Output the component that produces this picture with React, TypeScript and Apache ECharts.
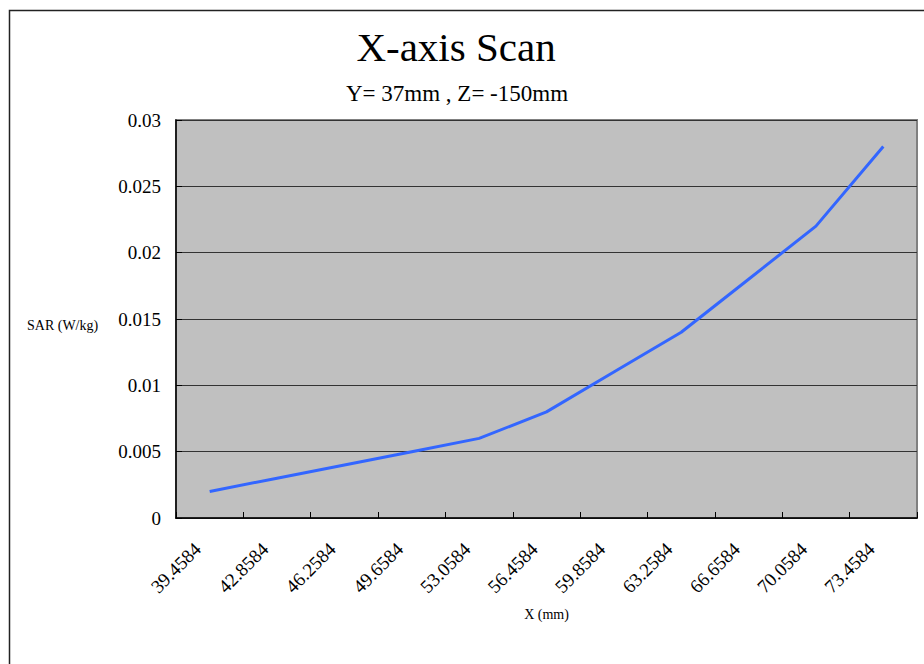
import React, { useEffect, useRef } from "react";
import * as echarts from "echarts";

const categories = [
  "39.4584", "42.8584", "46.2584", "49.6584", "53.0584", "56.4584",
  "59.8584", "63.2584", "66.6584", "70.0584", "73.4584",
];
const sarValues = [0.002, 0.003, 0.004, 0.005, 0.006, 0.008, 0.011, 0.014, 0.018, 0.022, 0.028];
const titleText = "X-axis Scan";
const subtitleText = "Y= 37mm , Z= -150mm";
const yAxisName = "SAR (W/kg)";
const xAxisName = "X (mm)";

const FONT = "Times New Roman";

export default function App() {
  const ref = useRef<HTMLDivElement>(null);
  useEffect(() => {
    if (!ref.current) return;
    const chart = echarts.init(ref.current, undefined, { renderer: "svg" });
    chart.setOption({
      animation: false,
      backgroundColor: "#ffffff",
      textStyle: { fontFamily: FONT },
      graphic: [
        {
          type: "rect",
          shape: { x: 9.5, y: 10.5, width: 1000, height: 1000 },
          style: { fill: "none", stroke: "#222", lineWidth: 1.5 },
          silent: true,
        },
        {
          type: "text",
          x: 456,
          y: 26,
          style: { text: titleText, fontFamily: FONT, fontSize: 41, fill: "#000", align: "center", verticalAlign: "top" },
        },
        {
          type: "text",
          x: 457,
          y: 82,
          style: { text: subtitleText, fontFamily: FONT, fontSize: 23, fill: "#000", align: "center", verticalAlign: "top" },
        },
        {
          type: "text",
          left: 27,
          top: 318,
          style: { text: yAxisName, fontFamily: FONT, fontSize: 14, fill: "#000" },
        },
      ],
      grid: {
        left: 176,
        top: 120,
        width: 741,
        height: 398,
        show: true,
        backgroundColor: "#c0c0c0",
        borderColor: "#808080",
        borderWidth: 2,
      },
      xAxis: {
        type: "category",
        data: categories,
        boundaryGap: true,
        name: xAxisName,
        nameLocation: "middle",
        nameGap: 89,
        nameTextStyle: { fontFamily: FONT, fontSize: 14, color: "#000" },
        axisLine: { show: true, lineStyle: { color: "#000", width: 1.5 } },
        axisTick: { show: true, inside: true, length: 6, alignWithLabel: false, lineStyle: { color: "#000" } },
        axisLabel: {
          rotate: 45,
          margin: 16,
          padding: [0, 17, 0, 0],
          interval: 0,
          fontFamily: FONT,
          fontSize: 19,
          color: "#000",
        },
        splitLine: { show: false },
      },
      yAxis: {
        type: "value",
        min: 0,
        max: 0.03,
        interval: 0.005,
        axisLine: { show: true, lineStyle: { color: "#000", width: 1.5 } },
        axisTick: { show: true, inside: true, length: 6, lineStyle: { color: "#000" } },
        axisLabel: { margin: 15, fontFamily: FONT, fontSize: 19, color: "#000" },
        splitLine: { show: true, lineStyle: { color: "#333", width: 1 } },
      },
      series: [
        {
          type: "line",
          data: sarValues,
          symbol: "none",
          lineStyle: { color: "#3366ff", width: 3 },
        },
      ],
    });
    return () => chart.dispose();
  }, []);
  return (
    <div
      ref={ref}
      style={{ position: "absolute", left: 0, top: 0, width: 924, height: 664 }}
    />
  );
}
